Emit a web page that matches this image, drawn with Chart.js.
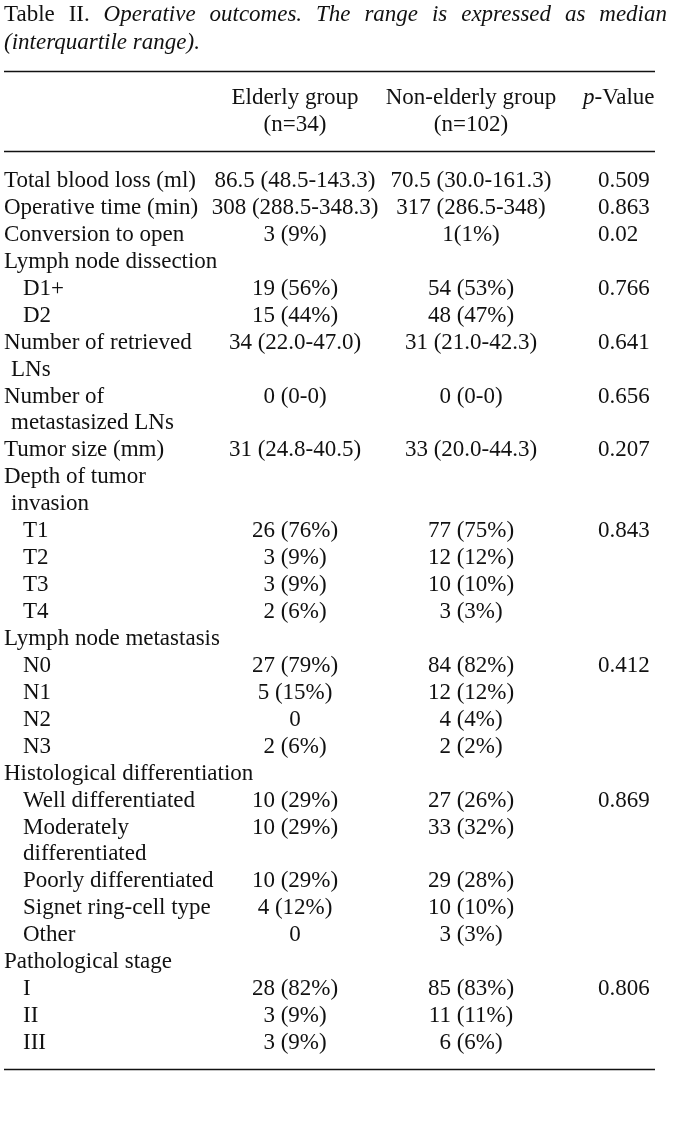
<!DOCTYPE html>
<html>
<head>
<meta charset="utf-8">
<script src="https://cdn.jsdelivr.net/npm/chart.js@4.4.0/dist/chart.umd.min.js"></script>
<style>
  body { margin: 0; background: #fff; }
  canvas { display: block; }
</style>
</head>
<body>
<canvas id="tabela" width="673" height="1124"></canvas>
<script>
const ctx = document.getElementById('tabela').getContext('2d');

// Dados da tabela ---------------------------------------------------------

const rowLabels = ['Total blood loss (ml)', 'Operative time (min)', 'Conversion to open', 'Lymph node dissection',
  'D1+', 'D2', 'Number of retrieved', 'LNs', 'Number of', 'metastasized LNs', 'Tumor size (mm)',
  'Depth of tumor', 'invasion', 'T1', 'T2', 'T3', 'T4', 'Lymph node metastasis', 'N0', 'N1', 'N2', 'N3',
  'Histological differentiation', 'Well differentiated', 'Moderately', 'differentiated',
  'Poorly differentiated', 'Signet ring-cell type', 'Other', 'Pathological stage', 'I', 'II', 'III']

// 0 = sem recuo, 1 = linha de continuação, 2 = subcategoria
const rowIndent = [0, 0, 0, 0, 2, 2, 0, 1, 0, 1, 0, 0, 1, 2, 2, 2, 2, 0, 2, 2, 2, 2, 0, 2, 2, 2, 2, 2, 2, 0, 2, 2, 2]

const elderly = ['86.5 (48.5-143.3)', '308 (288.5-348.3)', '3 (9%)', '', '19 (56%)', '15 (44%)', '34 (22.0-47.0)', '',
  '0 (0-0)', '', '31 (24.8-40.5)', '', '', '26 (76%)', '3 (9%)', '3 (9%)', '2 (6%)', '', '27 (79%)', '5 (15%)', '0',
  '2 (6%)', '', '10 (29%)', '10 (29%)', '', '10 (29%)', '4 (12%)', '0', '', '28 (82%)', '3 (9%)', '3 (9%)']

const nonElderly = ['70.5 (30.0-161.3)', '317 (286.5-348)', '1(1%)', '', '54 (53%)', '48 (47%)', '31 (21.0-42.3)', '',
  '0 (0-0)', '', '33 (20.0-44.3)', '', '', '77 (75%)', '12 (12%)', '10 (10%)', '3 (3%)', '', '84 (82%)', '12 (12%)',
  '4 (4%)', '2 (2%)', '', '27 (26%)', '33 (32%)', '', '29 (28%)', '10 (10%)', '3 (3%)', '', '85 (83%)', '11 (11%)', '6 (6%)']

const pValue = ['0.509', '0.863', '0.02', '', '0.766', '', '0.641', '', '0.656', '', '0.207', '', '', '0.843', '', '', '',
  '', '0.412', '', '', '', '', '0.869', '', '', '', '', '', '', '0.806', '', '']

const headers = [['Elderly group', '(n=34)'], ['Non-elderly group', '(n=102)'], ['p-Value', '']]

const titleLine1 = ['Table II.', 'Operative outcomes. The range is expressed as median']
const titleLine2 = '(interquartile range).'

// Layout ------------------------------------------------------------------

const fonte = '23px "Liberation Serif", "Times New Roman", serif'
const fonteItalica = 'italic 23px "Liberation Serif", "Times New Roman", serif'
const margemEsq = 4
const margemDir = 667
const colElderly = 295
const colNon = 471
const colP = 598
const cor = '#111'

function textoJustificado(c, partes, y) {
  // primeira parte em texto normal, resto em itálico, justificado na largura
  const palavras = []
  partes.forEach((p, i) => {
    p.split(' ').forEach(w => palavras.push({ w, f: i == 0 ? fonte : fonteItalica }))
  })
  let total = 0
  palavras.forEach(p => { c.font = p.f; p.larg = c.measureText(p.w).width; total += p.larg })
  const espaco = (margemDir - margemEsq - total) / (palavras.length - 1)
  let x = margemEsq
  palavras.forEach(p => {
    c.font = p.f
    c.fillText(p.w, x, y)
    x += p.larg + espaco
  })
}

const pluginTabela = {
  id: 'tabela',
  afterDraw(chart) {
    const c = chart.ctx
    const y = chart.scales.y
    const passo = y.getPixelForValue(1) - y.getPixelForValue(0)
    const topo = y.getPixelForValue(0)
    const fim = y.getPixelForValue(rowLabels.length - 1)
    c.save()
    c.fillStyle = cor
    c.textBaseline = 'middle'

    // título
    c.textAlign = 'left'
    textoJustificado(c, titleLine1, 15)
    c.font = fonteItalica
    c.fillText(titleLine2, margemEsq, 43)

    // linhas horizontais
    c.strokeStyle = cor
    c.lineWidth = 1.5
    ;[71, topo - 30, fim + passo - 1].forEach(ly => {
      c.beginPath()
      c.moveTo(margemEsq, Math.round(ly) + 0.5)
      c.lineTo(655, Math.round(ly) + 0.5)
      c.stroke()
    })

    // cabeçalho
    c.font = fonte
    c.textAlign = 'center'
    c.fillText(headers[0][0], colElderly, 98)
    c.fillText(headers[0][1], colElderly, 125)
    c.fillText(headers[1][0], colNon, 98)
    c.fillText(headers[1][1], colNon, 125)
    c.textAlign = 'left'
    c.font = fonteItalica
    const pw = c.measureText('p').width
    c.fillText('p', 583, 98)
    c.font = fonte
    c.fillText(headers[2][0].slice(1), 583 + pw, 98)

    // corpo
    rowLabels.forEach((rot, i) => {
      const py = y.getPixelForValue(i)
      c.font = fonte
      c.textAlign = 'left'
      c.fillText(rot, margemEsq + [0, 7, 19][rowIndent[i]], py)
      c.textAlign = 'center'
      if (elderly[i]) c.fillText(elderly[i], colElderly, py)
      if (nonElderly[i]) c.fillText(nonElderly[i], colNon, py)
      c.textAlign = 'left'
      if (pValue[i]) c.fillText(pValue[i], colP, py)
    })
    c.restore()
  }
}

const config = {
  type: 'scatter',
  data: {
    datasets: [{
      data: rowLabels.map((r, i) => ({ x: 0, y: i })),
      pointRadius: 0
    }]
  },
  options: {
    responsive: false,
    animation: false,
    events: [],
    layout: { padding: { top: 181, bottom: 81, left: 0, right: 0 } },
    scales: {
      x: { display: false, min: 0, max: 1 },
      y: { display: false, min: 0, max: rowLabels.length - 1, reverse: true }
    },
    plugins: { legend: false, tooltip: { enabled: false } }
  },
  plugins: [pluginTabela]
}

new Chart(ctx, config)
</script>
</body>
</html>
